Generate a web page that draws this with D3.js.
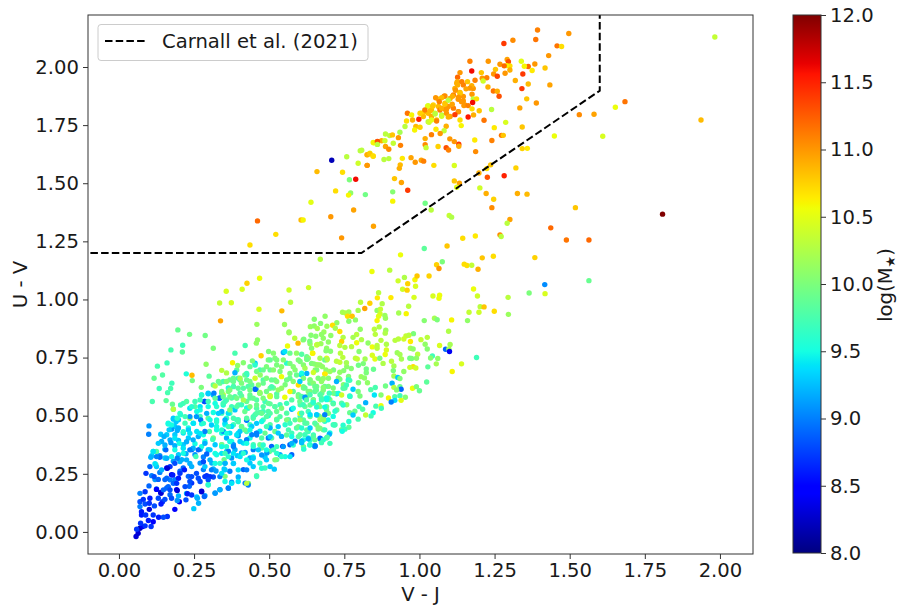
<!DOCTYPE html>
<html>
<head>
<meta charset="utf-8">
<script src="https://cdn.jsdelivr.net/npm/d3@7"></script>
<style>
    html, body { margin: 0; padding: 0; background: #fff; }
    text { font-family: "DejaVu Sans", sans-serif; fill: #1a1a1a; }
</style>
</head>
<body>
<div id="chart"></div>
<script>
// each row: V-J, U-V, log(M*)
const passiveGalaxies = [
[1.393,2.159,11.1],[1.497,2.144,11],[1.983,2.129,10.35],[1.281,2.101,11.4],[1.311,2.115,11.05],[1.387,2.118,11.15],[1.458,2.091,11.15],[1.473,2.088,10.7],
[1.43,2.049,11],[1.168,2.025,11.1],[1.229,2.025,11],[1.292,2.032,10.95],[1.296,2.023,11.3],[1.339,2.025,10.5],[1.268,2.012,11],[1.384,2.013,11],
[1.362,2.002,11.2],[1.349,2.003,10.6],[1.418,1.996,10.8],[1.174,1.983,11.6],[1.301,2.005,10.7],[1.29,2.006,10.6],[1.282,2.005,11.2],[1.253,1.99,10.8],
[1.206,1.976,10.8],[1.135,1.976,11],[1.375,1.985,10.65],[1.247,1.97,11],[1.285,1.973,11],[1.301,1.987,10.9],[1.344,1.97,11.4],[1.259,1.96,11.35],
[1.127,1.956,11.2],[1.209,1.952,11],[1.224,1.954,11.1],[1.185,1.943,11.1],[1.126,1.937,10.9],[1.212,1.94,10.4],[1.16,1.937,10.8],[1.141,1.937,11.1],
[1.319,1.942,10.9],[1.434,1.923,10.95],[1.362,1.927,10.85],[1.146,1.923,11.1],[1.174,1.92,10.9],[1.127,1.923,10.9],[1.228,1.914,10.9],[1.341,1.907,11.4],
[1.168,1.909,11],[1.155,1.906,10.95],[1.12,1.9,11],[1.246,1.897,11.15],[1.259,1.896,10.9],[1.135,1.887,10.8],[1.175,1.883,11],[1.265,1.874,11.3],
[1.11,1.874,10.9],[1.082,1.874,11.05],[1.074,1.868,10.85],[1.054,1.868,11],[1.13,1.87,11],[1.179,1.863,10.3],[1.19,1.863,10.7],[1.357,1.863,10.8],
[1.096,1.857,10.3],[1.146,1.854,11],[1.066,1.851,11.1],[1.177,1.847,11.6],[1.389,1.845,11],[1.085,1.84,10.8],[1.109,1.84,10.95],[1.027,1.831,10.5],
[1.044,1.831,10.8],[1.148,1.834,11],[1.162,1.834,11.1],[1.074,1.823,10.9],[1.334,1.824,10.95],[1.24,1.817,10.3],[1.199,1.812,10.8],[1.175,1.82,10.7],
[1.09,1.818,11],[1.018,1.815,11.1],[1.035,1.811,10.85],[1.13,1.808,11],[1.002,1.801,10.75],[0.96,1.801,11.15],[0.974,1.794,10.6],[1.052,1.798,10.3],
[1.118,1.795,11.4],[1.18,1.794,10.9],[1.532,1.795,11.05],[1.581,1.797,10.95],[1.652,1.827,10.55],[1.684,1.851,11.15],[1.937,1.772,10.85],[1.162,1.785,11.55],
[1.074,1.788,10.4],[1.096,1.785,10.9],[0.998,1.775,11.5],[0.957,1.768,10.7],[0.977,1.772,10.9],[1.057,1.768,11.1],[1.032,1.762,10.4],[1.04,1.772,10.5],
[1.135,1.772,10.7],[1.215,1.771,11.15],[1.287,1.762,10.45],[0.952,1.744,10.3],[1.139,1.748,10.6],[1.089,1.745,10.9],[0.988,1.744,10.85],[1.002,1.741,10.75],
[1.342,1.742,10.8],[1.249,1.739,10.65],[0.935,1.719,10.2],[0.984,1.729,10.6],[1.055,1.732,10.65],[1.082,1.726,10.35],[1.069,1.714,11],[1.04,1.709,11.1],
[1.273,1.706,11.15],[1.279,1.706,10.8],[1.449,1.703,10.55],[1.61,1.702,10.45],[0.887,1.712,10.3],[0.901,1.705,10.3],[0.91,1.708,10.8],[0.93,1.696,11],
[1.019,1.692,10.9],[1.101,1.691,11],[1.184,1.686,10.65],[1.116,1.679,11],[1.241,1.684,11.1],[0.874,1.683,10.9],[0.885,1.683,10.4],[0.846,1.675,10.5],
[0.86,1.679,11.2],[0.913,1.672,10.35],[0.86,1.668,10.3],[0.937,1.663,11.1],[1.019,1.666,11.05],[1.131,1.668,11.4],[1.131,1.659,10.9],[1.062,1.658,10.75],
[1.022,1.653,10.35],[1.089,1.653,11.3],[1.097,1.643,11.1],[0.887,1.658,10.95],[0.898,1.646,11.05],[1.187,1.636,11.05],[1.342,1.649,10.75],[1.359,1.65,10.65],
[0.808,1.642,10.3],[0.835,1.629,10.5],[0.826,1.622,10.85],[0.846,1.616,10.7],[0.972,1.61,10.95],[0.943,1.607,10.65],[0.898,1.606,10.3],[0.882,1.602,10.3],
[1.006,1.599,10.95],[1.014,1.595,11.1],[0.986,1.59,11],[0.936,1.579,10.85],[1.048,1.577,10.7],[1.116,1.576,10.45],[1.237,1.579,10.8],[0.826,1.577,11],
[0.933,1.564,10.9],[1.224,1.563,10.7],[1.321,1.566,10.75],[1.198,1.544,10.9],[1.226,1.526,11.3],[1.282,1.532,11.5],[0.917,1.52,10.8],[0.94,1.503,10.95],
[1.116,1.51,10.8],[1.133,1.5,10.95],[1.124,1.483,10.5],[0.961,1.47,11.4],[1.201,1.48,10.4],[0.911,1.463,10.05],[0.82,1.451,9.95],[1.222,1.456,10.9],
[1.326,1.456,10.9],[1.358,1.453,10.85],[1.247,1.431,10.75],[0.911,1.423,10.6],[1.019,1.414,9.95],[1.519,1.395,10.8],[1.241,1.395,11.05],[1.039,1.385,10.3],
[1.099,1.361,10.35],[1.107,1.354,10.25],[1.809,1.367,12],[1.301,1.344,10.95],[1.292,1.328,10.3],[0.847,1.315,10.95],[1.437,1.308,11.2],[1.489,1.256,11.15],
[1.564,1.256,11.2],[1.268,1.278,11.05],[1.272,1.271,10.3],[1.186,1.273,10.65],[1.144,1.263,10.7],[1.092,1.23,10.8],[1.016,1.219,9.85],
[0.708,1.599,8.2],[0.758,1.614,10.3],[0.803,1.64,10.3],[0.826,1.623,10.9],[0.835,1.627,10.8],[0.846,1.617,10.7],[0.848,1.674,10.6],[0.86,1.68,11.3],
[0.86,1.667,10.3],[0.796,1.586,10.4],[0.826,1.577,11],[0.659,1.55,10.85],[0.744,1.547,10.7],[0.767,1.515,10],[0.788,1.517,11.6],[0.721,1.467,10.7],
[0.771,1.458,10.1],[0.764,1.449,10.6],[0.639,1.418,10.5],[0.781,1.385,10.95],[0.461,1.338,11.2],[0.606,1.342,10.85],[0.613,1.342,10.6],[0.705,1.356,11],
[0.522,1.28,10.7],[0.741,1.265,11],[0.436,1.234,10.7]
];

const passiveCore = [
[1.124,1.93,10.9],[1.118,1.908,10.9],[1.179,1.908,11],[1.135,1.89,10.85],[1.113,1.88,11.1],[1.146,1.873,11],[1.102,1.865,10.9],[1.129,1.861,11],
[1.085,1.875,11],[1.063,1.861,10.8],[1.085,1.844,10.8],[1.14,1.851,11],[1.151,1.837,11],[1.046,1.837,10.75],[1.029,1.833,10.4],[1.063,1.83,10.85],
[1.096,1.83,11],[1.113,1.823,11.1],[1.129,1.808,11.1],[1.04,1.815,10.85],[1.018,1.808,10.85],[1.052,1.801,10.4],[1.074,1.794,10.3],[1.09,1.801,11],
[1.102,1.787,10.95],[1.029,1.801,10.85],[1.007,1.801,10.7],[1.013,1.787,10.85],[1.04,1.787,10.9],[1.057,1.772,10.8],[1.029,1.765,10.3],[1.085,1.818,11],
[1.068,1.815,11.1]
];

const greenValley = [
[0.937,1.192,10.55],[1.209,1.179,10.8],[1.246,1.186,10.7],[1.384,1.18,10.75],[1.057,1.149,10.75],[1.065,1.133,11],[1.076,1.162,10],[1.149,1.152,10.7],
[1.158,1.146,10.7],[1.174,1.147,10.35],[1.195,1.13,10.9],[0.842,1.12,10.55],[0.901,1.126,10.3],[0.67,1.173,10.3],[0.95,1.095,10.25],[0.929,1.08,10.4],
[0.985,1.085,10.6],[0.992,1.101,10.8],[1.032,1.101,10.75],[0.961,1.068,10.75],[0.987,1.057,10.45],[0.944,1.044,10.4],[0.959,1.04,10.75],[1.417,1.064,9.05],
[1.564,1.081,9.9],[1.365,1.028,10],[1.418,1.025,10.45],[1.295,1.009,10.3],[1.18,1.045,10.55],[1.193,1.015,10.4],[1.045,1.015,10.45],[1.067,1.018,10.55],
[1.065,1.005,10.55],[0.982,1.009,10.45],[0.905,1.008,10.65],[0.86,1.007,10.65],[0.864,1.029,10.3],[0.631,1.051,10.4],[0.804,0.988,10.3],[0.835,0.984,10.75],
[0.876,0.982,10.25],[0.818,0.961,10.95],[0.796,0.953,10.2],[0.859,0.953,10.1],[0.87,0.958,10.35],[0.964,0.971,10.3],[0.931,0.942,10.2],[0.956,0.939,10.6],
[0.869,0.938,10.4],[0.864,0.928,10.5],[0.859,0.909,10.6],[0.885,0.931,10.15],[0.887,0.919,10.15],[1.202,0.969,10.3],[1.215,0.968,10.8],[1.249,0.949,10.7],
[1.198,0.945,10.4],[1.165,0.945,10.35],[1.296,0.936,10.15],[1.16,0.909,10.1],[1.107,0.912,10.6],[1.05,0.919,10.2],[1.059,0.913,10],[1.016,0.909,10.05],
[0.744,0.945,10.2],[0.754,0.942,10.25],[0.765,0.946,10.2],[0.761,0.928,10.7],[0.776,0.928,10.8],[0.765,0.906,10.05],[0.787,0.912,10.1],[0.686,0.928,10.1],
[0.65,0.915,10.05],[0.725,0.9,10.1],[0.671,0.897,10.05],[0.711,0.889,10.7],[0.637,0.883,10.15],[0.65,0.886,10.1],[0.66,0.875,10.2],[0.692,0.885,10.15],
[0.72,0.876,10.2],[0.735,0.862,10.7],[0.803,0.872,10.1],[0.85,0.872,10.3],[0.866,0.882,10.25],[0.853,0.85,10.3],[0.888,0.868,10.15],[0.886,0.855,10.25],
[1.097,0.863,10.25],[0.98,0.853,10],[0.682,0.86,10.15],[0.639,0.846,10.05],[0.655,0.842,10.05],[0.674,0.849,10.1],[0.705,0.845,10.1],[0.746,0.837,10.25],
[0.791,0.849,10.3],[0.779,0.837,10.2],[0.807,0.827,10.25],[0.872,0.824,10.3],[0.955,0.843,10.35],[0.965,0.846,10.3],[0.948,0.83,10.4],[0.93,0.83,10.3],
[0.919,0.824,10.3],[1.005,0.827,10.35],[1.026,0.837,10.3],[0.97,0.819,10.65],[0.615,0.829,10],[0.635,0.82,10],[0.672,0.81,10.15],[0.697,0.817,10.1],
[0.741,0.819,10.75],[0.791,0.814,10.55],[0.829,0.813,10.1],[0.89,0.807,10.25],[1.019,0.807,10.1],[0.66,0.806,10.3],[0.735,0.802,10.3],[0.752,0.794,10.25],
[0.774,0.797,10.3],[0.843,0.796,10.55],[0.859,0.802,10.3],[0.859,0.79,10.3],[1.067,0.802,10.45],[1.026,0.787,10.05],[0.641,0.79,10.05],[1.102,0.806,10.2],
[1.087,0.786,8.9],[1.098,0.787,10.2],[1.1,0.776,8.4],[0.689,0.779,10.05],[0.704,0.777,10.05],[0.799,0.776,10.05],[0.89,0.783,10.45],[0.886,0.763,10.55],
[0.926,0.771,10.15],[0.97,0.79,10.2],[0.979,0.787,10.1],[0.994,0.764,10.3],[0.644,0.769,10.6],[0.737,0.769,10.3],[0.745,0.751,10.3],[0.843,0.76,10.45],
[0.852,0.744,10.5],[0.935,0.763,10.2],[0.94,0.744,10.2],[1.043,0.757,9.7],[1.037,0.748,10.05],[1.061,0.746,10.1],[1.19,0.75,9.7],[0.99,0.747,10.1],
[0.968,0.747,9.95],[0.974,0.746,10],[0.608,0.764,9.8],[0.626,0.743,9.95],[0.685,0.74,9.9],[0.693,0.743,10.25],[0.724,0.734,10.3],[0.735,0.73,10.35],
[0.757,0.728,10.2],[0.787,0.747,10.3],[0.819,0.744,10.2],[0.793,0.744,10.35],[0.868,0.747,10],[0.879,0.725,10.25],[0.907,0.734,10.3],[0.813,0.724,10],
[0.797,0.717,9.95],[0.979,0.711,10.7],[0.968,0.708,10.4],[0.988,0.705,10.4],[1.028,0.71,9.85],[1.056,0.723,10.2],[1.14,0.723,10.45],[1.109,0.69,10.6],
[0.915,0.714,10.2],[0.649,0.723,10.05],[0.663,0.718,10.1],[0.677,0.711,10.1],[0.689,0.697,10.1],[0.773,0.703,10.05],[0.823,0.701,9.95],[0.847,0.7,9.9],
[0.748,0.694,10.05],[0.735,0.687,10.1],[0.702,0.69,10.15],[0.685,0.68,10.65],[0.913,0.694,10],[0.948,0.69,10.1],[0.915,0.671,10.2],[0.806,0.668,10.15],
[0.68,0.66,10.1],[0.768,0.652,9.7],[0.735,0.657,10],[0.823,0.685,10],[0.928,0.664,9.3],[0.935,0.66,10],[0.817,0.662,10.1],[1.024,0.645,9.85],
[0.909,0.64,9.2],[0.797,0.642,10],[0.827,0.642,10.1],[0.757,0.632,9.7],[0.724,0.647,9.2],[0.887,0.628,9.95],[0.915,0.622,10.3],[0.935,0.625,9.9],
[0.939,0.614,8.9],[0.977,0.618,10.55],[0.99,0.625,10],[1,0.607,9.9],[0.838,0.612,9.8],[0.853,0.621,9.75],[0.779,0.614,9.3],[0.746,0.618,9.8],
[0.68,0.622,10.05],[0.657,0.611,9.9],[0.796,0.604,10],[0.924,0.611,10.05],[0.85,0.589,9.4],[0.872,0.589,10.05],[0.768,0.585,9.6],[0.802,0.585,10],
[0.718,0.596,9.9],[0.73,0.596,9.5],[0.691,0.576,9.5],[0.741,0.589,10.4],[0.918,0.582,9.8],[0.935,0.586,9.7],[0.953,0.579,10.05],[0.897,0.576,10.6],
[0.939,0.566,10.5],[0.918,0.566,9.35],[0.906,0.559,9],[0.821,0.556,9.2],[0.746,0.546,9.6],[0.713,0.551,9.8],[0.646,0.558,9.6],[0.674,0.568,9.7],
[0.624,0.568,9.8],[0.799,0.539,9.75],[0.855,0.541,9.75],[0.872,0.543,10.55],[0.873,0.532,9.7],[0.811,0.528,9.8],[0.846,0.513,9.5],[0.821,0.503,10.35],
[0.839,0.499,9.7],[0.768,0.513,9.9],[0.779,0.503,9.3],[0.796,0.485,9.75],[0.765,0.475,9.6],[0.717,0.46,9.7],[0.696,0.482,9.5],[0.681,0.482,10.1],
[0.746,0.459,9.6],[0.765,0.45,9.85],[0.752,0.442,9.7],[0.743,0.433,9.5],[0.685,0.439,9.7],[0.7,0.42,9.2],[0.671,0.401,8.9],[0.68,0.396,9.6],
[0.693,0.407,9.8],[0.63,0.401,9.2],[0.608,0.384,9.25],[0.652,0.396,9.9],[0.653,0.37,9],[0.635,0.374,9.6],[0.615,0.356,9.6],[0.674,0.384,9.7]
];

const starFormingUpper = [
[0.468,1.091,10.55],[0.426,1.07,10.75],[0.41,1.044,10.45],[0.357,1.035,10.45],[0.566,1.041,10.4],[0.335,0.985,10.35],[0.374,0.986,10.45],[0.571,0.988,10.3],
[0.466,0.958,10.45],[0.542,0.951,10.85],[0.338,0.908,10.95],[0.459,0.893,10.15],[0.551,0.892,10.15],[0.196,0.869,9.9],[0.235,0.85,9.95],[0.287,0.845,9.95],
[0.566,0.86,10.15],[0.173,0.783,9.75],[0.212,0.803,9.7],[0.211,0.774,9.85],[0.314,0.79,10],[0.42,0.802,9.75],[0.461,0.826,10.1],[0.457,0.812,10.1],
[0.386,0.769,9.75],[0.585,0.833,10.3],[0.596,0.812,10.85],[0.561,0.8,10.55],[0.473,0.758,10.75],[0.498,0.776,10],[0.378,0.728,10.6],[0.16,0.727,9.7],
[0.128,0.713,9.75],[0.29,0.721,10.1],[0.395,0.716,10.1],[0.414,0.728,10.05],[0.444,0.736,10],[0.117,0.661,9.9],[0.145,0.675,9.8],[0.224,0.68,9.55],
[0.243,0.674,10.85],[0.244,0.651,9.95],[0.3,0.67,9.85],[0.342,0.695,10.3],[0.358,0.684,10.25],[0.134,0.617,9.7],[0.176,0.64,9.7],[0.172,0.617,9.75],
[0.162,0.599,9.75],[0.274,0.622,10],[0.111,0.561,9.75],[0.157,0.565,9.85],[0.178,0.549,9.9],[0.181,0.528,10.3],[0.1,0.456,9.1],[0.099,0.42,9]
];

const starFormingMain = [
[0.203,0.51,9.6],[0.22,0.496,9.7],[0.175,0.46,9.5],[0.247,0.467,9.4],[0.281,0.467,9.6],[0.214,0.431,9.6],[0.236,0.424,9.4],[0.194,0.489,9.6],
[0.253,0.539,9.8],[0.27,0.525,9.5],[0.303,0.482,9.5],[0.325,0.474,9.6],[0.342,0.439,9.6],[0.364,0.453,9.7],[0.397,0.474,9.75],[0.408,0.453,9.9],
[0.447,0.496,9.75],[0.475,0.51,9.9],[0.519,0.539,9.8],[0.541,0.532,10],[0.575,0.568,9.8],[0.602,0.561,9.9],[0.619,0.539,9.9],[0.647,0.568,10],
[0.674,0.575,9.8],[0.658,0.503,9.9],[0.68,0.496,10.1],[0.586,0.482,9.8],[0.558,0.482,10],[0.525,0.482,9.8],[0.491,0.496,9.8],[0.458,0.546,9.9],
[0.436,0.539,10],[0.419,0.518,9.9],[0.392,0.575,9.95],[0.369,0.611,10],[0.347,0.582,9.9],[0.32,0.575,9.85],[0.297,0.561,9.7],[0.27,0.568,9.7],
[0.242,0.539,9.6],[0.381,0.647,9.9],[0.408,0.64,10],[0.436,0.647,9.95],[0.464,0.632,10.05],[0.491,0.661,10],[0.525,0.647,10],[0.558,0.654,9.95],
[0.58,0.647,10.05],[0.614,0.661,10],[0.647,0.64,10.05],[0.674,0.647,10.1],[0.419,0.675,9.9],[0.392,0.697,9.85],[0.458,0.69,9.95],[0.436,0.711,9.9],
[0.491,0.711,10],[0.519,0.747,10],[0.547,0.74,10.05],[0.58,0.711,10.05],[0.614,0.718,10.05],[0.641,0.725,10],[0.669,0.718,10.1],[0.508,0.654,9.9],
[0.53,0.611,10.1],[0.491,0.604,9.95],[0.447,0.575,9.9],[0.48,0.575,10],[0.58,0.604,9.9],[0.636,0.604,10],[0.597,0.582,10],[0.691,0.539,9.9],
[0.658,0.46,10],[0.614,0.482,9.85],[0.558,0.417,9.85],[0.597,0.41,9.8],[0.63,0.432,9.7],[0.68,0.439,9.9],[0.647,0.417,9.7],[0.58,0.374,9.6],
[0.553,0.324,9.5],[0.525,0.338,9.6],[0.491,0.353,9.5],[0.464,0.353,9.3],[0.447,0.367,9.6],[0.403,0.389,9.3],[0.369,0.389,9.5],[0.342,0.338,9.4],
[0.358,0.367,9.6],[0.303,0.353,9.3],[0.275,0.367,9.5],[0.247,0.36,9.2],[0.214,0.36,9.4],[0.186,0.353,9.5],[0.153,0.374,9.2],[0.214,0.338,9.5],
[0.175,0.324,9.5],[0.159,0.317,9.2],[0.203,0.303,9.2],[0.286,0.281,9.3],[0.32,0.295,9.5],[0.303,0.31,9.2],[0.336,0.295,9.6],[0.353,0.338,9.7],
[0.32,0.553,9.5],[0.342,0.604,10],[0.32,0.628,10.3],[0.331,0.647,9.9],[0.358,0.647,10],[0.386,0.685,9.2],[0.403,0.661,10.2],[0.425,0.682,9.7],
[0.453,0.718,9.6],[0.47,0.675,10.1],[0.453,0.661,10.4],[0.503,0.74,9.9],[0.525,0.718,10],[0.552,0.776,9.4],[0.569,0.769,9.9],[0.591,0.769,10.1],
[0.613,0.826,10.1],[0.636,0.809,10.1],[0.658,0.804,10.4],[0.68,0.833,10.1],[0.691,0.79,10.1],[0.645,0.769,10.65],[0.691,0.747,10.5],[0.625,0.754,9.9],
[0.597,0.74,10],[0.569,0.725,10],[0.541,0.711,10.05],[0.514,0.697,10.05],[0.48,0.697,9.9],[0.541,0.668,10.55],[0.625,0.682,9.2],[0.591,0.675,9.9],
[0.569,0.682,10],[0.686,0.68,10.7],[0.658,0.697,10],[0.636,0.654,10.1],[0.597,0.632,10.7],[0.569,0.604,10.6],[0.552,0.579,10.55],[0.614,0.625,10],
[0.68,0.611,10],[0.652,0.604,9.85],[0.625,0.582,10],[0.697,0.575,9.7],[0.669,0.539,10],[0.636,0.546,9.9],[0.602,0.51,10.55],[0.58,0.532,9.5],
[0.558,0.553,9.7],[0.525,0.582,9.85],[0.503,0.582,10.4],[0.48,0.539,9.8],[0.508,0.625,9.75],[0.541,0.618,10.1],[0.469,0.596,10.1],[0.436,0.611,9.95],
[0.397,0.618,9.85],[0.369,0.582,9.9],[0.414,0.568,10.2],[0.392,0.539,9.8],[0.347,0.553,9.7],[0.369,0.525,10],[0.331,0.51,9.3],[0.353,0.482,9.2],
[0.381,0.489,9.75],[0.425,0.489,9.8],[0.458,0.51,9.8],[0.503,0.51,9.8],[0.536,0.496,9.8],[0.569,0.467,9.7],[0.602,0.482,10.1],[0.636,0.496,9.9],
[0.669,0.482,10.2],[0.697,0.51,10],[0.669,0.446,10],[0.625,0.439,9.8],[0.597,0.453,9.9],[0.564,0.439,9.75],[0.53,0.453,9.3],[0.491,0.453,9.7],
[0.458,0.467,9.3],[0.436,0.439,9.5],[0.419,0.439,9.9],[0.392,0.417,9.4],[0.358,0.424,9.5],[0.325,0.439,9.5],[0.308,0.46,9.3],[0.286,0.432,9],
[0.27,0.424,9.4],[0.286,0.381,9.2],[0.312,0.398,9.7],[0.342,0.367,9.5],[0.381,0.367,9],[0.32,0.338,9.5],[0.292,0.335,8.9],[0.264,0.353,8.9],
[0.236,0.353,9],[0.256,0.324,9.7],[0.225,0.31,9.2],[0.194,0.317,9],[0.242,0.281,9.2],[0.281,0.302,8.8],[0.308,0.267,9],[0.323,0.262,9.1],
[0.353,0.295,9.2],[0.364,0.324,9.6],[0.381,0.295,9.3],[0.403,0.324,9.4],[0.425,0.31,9.5],[0.447,0.317,9.3],[0.475,0.331,9.1],[0.491,0.31,9.3],
[0.519,0.31,10],[0.541,0.324,9.6],[0.569,0.324,9.4],[0.575,0.381,9.2],[0.547,0.367,9.1],[0.514,0.353,9.7],[0.48,0.374,9.6],[0.503,0.41,9.3],
[0.458,0.417,9],[0.425,0.381,9.5],[0.397,0.267,9.4],[0.425,0.267,9],[0.447,0.281,9.3],[0.475,0.274,9.6],[0.503,0.281,9.3],[0.517,0.27,9.3],
[0.458,0.238,9.7],[0.43,0.202,9],[0.425,0.209,10.3],[0.397,0.217,9.4],[0.375,0.209,9.4],[0.353,0.217,9.5],[0.336,0.238,9],[0.364,0.188,9],
[0.336,0.181,9.2],[0.32,0.166,9.1],[0.297,0.202,9.6],[0.353,0.267,9.3],[0.614,0.367,9.9],[0.636,0.396,9.6],[0.652,0.367,9.2],[0.669,0.403,9],
[0.614,0.396,9.5],[0.702,0.381,9.7],[0.575,0.41,9.5],[0.525,0.367,9.7],[0.414,0.338,9.6],[0.381,0.338,9.4],[0.342,0.252,9.4]
];

const cloudLeft = [
[0.314,0.632,9.85],[0.336,0.64,9.9],[0.369,0.654,9.9],[0.397,0.661,9.7],[0.425,0.654,9.9],[0.48,0.654,9.8],[0.519,0.654,9.9],[0.381,0.625,9.7],
[0.456,0.614,9.1],[0.414,0.618,9.8],[0.442,0.632,9.85],[0.503,0.618,9.9],[0.275,0.589,9.5],[0.297,0.597,9.3],[0.314,0.589,9.2],[0.342,0.597,9.7],
[0.364,0.604,10],[0.386,0.582,9.8],[0.408,0.585,9.85],[0.436,0.589,9.9],[0.469,0.6,10.3],[0.503,0.585,10.4],[0.525,0.594,9.8],[0.284,0.561,8.9],
[0.253,0.561,9.7],[0.333,0.575,9.1],[0.358,0.568,9.8],[0.425,0.561,9.9],[0.458,0.568,9.8],[0.486,0.561,9.7],[0.214,0.553,9.7],[0.225,0.561,9.8],
[0.205,0.546,9.7],[0.236,0.532,9.4],[0.27,0.539,9.4],[0.297,0.539,9.5],[0.325,0.539,9.6],[0.347,0.546,9.6],[0.375,0.539,9.7],[0.397,0.546,9.8],
[0.43,0.532,9.75],[0.458,0.532,9.8],[0.497,0.553,9.9],[0.519,0.539,9.85],[0.181,0.528,9.85],[0.259,0.518,9.5],[0.314,0.514,9.5],[0.342,0.511,9.7],
[0.369,0.511,9.7],[0.469,0.514,9.8],[0.497,0.518,9.8],[0.205,0.504,9.6],[0.236,0.489,10.1],[0.181,0.485,9.3],[0.198,0.482,9.3],[0.22,0.468,9.7],
[0.27,0.497,9.7],[0.297,0.489,9.8],[0.325,0.482,9.5],[0.358,0.489,9.6],[0.392,0.482,9.6],[0.425,0.482,9.1],[0.447,0.489,9.8],[0.48,0.482,9.7],
[0.525,0.485,10.05],[0.164,0.468,9.5],[0.248,0.468,9.4],[0.275,0.465,9.5],[0.325,0.454,9.5],[0.353,0.461,9.5],[0.408,0.454,9.8],[0.381,0.461,9.7],
[0.436,0.461,9.7],[0.503,0.461,9.8],[0.186,0.454,9.3],[0.198,0.447,9.2],[0.175,0.442,9.1],[0.231,0.447,9.5],[0.259,0.432,9.4],[0.301,0.432,9.8],
[0.342,0.425,9.5],[0.369,0.425,9.4],[0.397,0.425,9.4],[0.458,0.425,9.1],[0.425,0.432,9.7],[0.486,0.425,9.9],[0.519,0.432,9.9],[0.159,0.418,9.3],
[0.186,0.418,9.3],[0.214,0.425,9.4],[0.281,0.418,9.5],[0.314,0.404,10],[0.436,0.404,9.5],[0.475,0.404,9.8],[0.508,0.404,9.8],[0.142,0.389,9.2],
[0.17,0.396,9.2],[0.198,0.394,9.3],[0.231,0.404,9.3],[0.253,0.379,9.5],[0.286,0.389,9.5],[0.342,0.375,9.8],[0.375,0.389,9.5],[0.414,0.382,9.4],
[0.447,0.375,9.7],[0.214,0.375,9.3],[0.186,0.371,9.2],[0.32,0.375,9.3],[0.242,0.354,8.9],[0.27,0.356,9.1],[0.297,0.354,9.3],[0.153,0.356,9.3],
[0.386,0.354,9.2],[0.358,0.346,9.3],[0.42,0.342,9.2],[0.475,0.361,9.8],[0.501,0.346,9.85],[0.125,0.346,9.8],[0.114,0.346,9.6],[0.109,0.328,9.3],
[0.136,0.328,9.1],[0.153,0.318,9.3],[0.198,0.332,9.3],[0.223,0.336,9.2],[0.253,0.332,9.1],[0.281,0.322,9],[0.325,0.332,9.5],[0.394,0.328,9.3],
[0.447,0.322,9.5],[0.486,0.322,9.3],[0.525,0.311,9.9],[0.209,0.311,9.2],[0.181,0.304,9.1],[0.236,0.294,9.2],[0.27,0.296,9.1],[0.309,0.296,9.2],
[0.353,0.296,9.3],[0.381,0.294,9.4],[0.436,0.296,9.3],[0.123,0.289,9.9],[0.35,0.311,9.9],[0.469,0.296,9.6],[0.159,0.275,8.5],[0.214,0.275,8.9],
[0.281,0.268,9],[0.314,0.271,9.2],[0.35,0.271,9.3],[0.369,0.261,9],[0.414,0.268,8.9],[0.486,0.275,9.7],[0.203,0.261,8.9],[0.175,0.246,8.4],
[0.136,0.256,9],[0.109,0.242,9],[0.231,0.239,8.9],[0.292,0.242,8.7],[0.314,0.236,8.8],[0.397,0.236,9.2],[0.458,0.242,9.8],[0.353,0.239,10],
[0.12,0.225,9.1],[0.153,0.225,8.9],[0.186,0.225,9],[0.42,0.21,9],[0.431,0.208,10],[0.242,0.21,8.7],[0.27,0.217,8.8],[0.297,0.204,9.8],
[0.375,0.214,9.1],[0.125,0.185,9],[0.159,0.189,8.9],[0.192,0.182,8.4],[0.234,0.196,8.9],[0.275,0.175,8.3],[0.364,0.189,9.1],[0.336,0.182,9],
[0.32,0.168,9.1],[0.139,0.17,8.3],[0.17,0.16,8.9],[0.225,0.165,9.2],[0.259,0.15,9.3],[0.286,0.156,9.1]
];

const cloudMiddle = [
[0.566,0.857,10.15],[0.547,0.772,9.2],[0.514,0.769,10.05],[0.497,0.74,10],[0.525,0.74,10],[0.453,0.726,9.3],[0.558,0.726,9.6],[0.603,0.733,10],
[0.669,0.747,10.2],[0.625,0.743,10.1],[0.691,0.74,10.3],[0.469,0.697,9.7],[0.503,0.697,9.9],[0.536,0.69,10],[0.586,0.697,10.05],[0.607,0.676,9.3],
[0.653,0.697,10.1],[0.714,0.697,10],[0.758,0.711,10.1],[0.381,0.661,9.9],[0.425,0.676,9.5],[0.403,0.654,9.85],[0.569,0.661,9.9],[0.636,0.64,9.85],
[0.675,0.654,10],[0.73,0.662,10.15],[0.764,0.669,10],[0.347,0.647,9.75],[0.453,0.614,8.9],[0.48,0.64,9.9],[0.43,0.626,9.8],[0.381,0.626,9.75],
[0.364,0.619,9.6],[0.514,0.619,9.9],[0.553,0.633,10],[0.614,0.619,10],[0.658,0.626,9.95],[0.697,0.626,10],[0.747,0.633,10.05],[0.469,0.597,9.85],
[0.403,0.597,9.8],[0.347,0.59,10.3],[0.503,0.586,10.3],[0.597,0.59,9.9],[0.63,0.604,10],[0.675,0.597,9.9],[0.714,0.597,10.25],[0.375,0.576,9.8],
[0.436,0.576,9.85],[0.619,0.576,9.3],[0.647,0.569,9.8],[0.702,0.569,10],[0.758,0.547,10.1],[0.336,0.576,8.9],[0.353,0.561,9.7],[0.408,0.547,9.7],
[0.503,0.551,9.85],[0.536,0.547,9.7],[0.575,0.528,9.2],[0.603,0.547,9.75],[0.664,0.547,9.9],[0.725,0.525,9.85],[0.386,0.525,9.3],[0.425,0.533,9.5],
[0.48,0.518,9.7],[0.525,0.518,9.9],[0.558,0.511,9.8],[0.63,0.518,9.7],[0.691,0.525,9.9],[0.342,0.518,9.2],[0.364,0.511,9.4],[0.453,0.504,9.7],
[0.497,0.5,9.5],[0.603,0.497,9.7],[0.664,0.5,9.9],[0.397,0.483,9.7],[0.425,0.48,9],[0.475,0.475,9.5],[0.525,0.483,10.2],[0.564,0.483,9.8],
[0.625,0.468,9.85],[0.719,0.461,9.8],[0.353,0.468,9.4],[0.375,0.454,9.4],[0.442,0.454,9.3],[0.503,0.447,9.2],[0.553,0.461,9.6],[0.591,0.447,9.8],
[0.664,0.447,9.7],[0.741,0.44,9.9],[0.347,0.433,9],[0.403,0.433,9.3],[0.469,0.433,9.4],[0.53,0.425,9.3],[0.575,0.425,9.7],[0.63,0.404,9.5],
[0.691,0.404,9.8],[0.397,0.414,9.1],[0.442,0.418,9],[0.458,0.425,9],[0.669,0.4,9.9],[0.358,0.404,9.2],[0.425,0.397,9],[0.497,0.404,9],
[0.541,0.411,9.2],[0.603,0.418,9.8],[0.342,0.375,9.95],[0.381,0.375,9.1],[0.469,0.375,9.9],[0.508,0.368,8.9],[0.545,0.368,8.7],[0.569,0.375,8.9],
[0.586,0.39,9],[0.636,0.375,9.7],[0.652,0.371,9.1],[0.364,0.347,9],[0.408,0.34,9.2],[0.447,0.354,9],[0.492,0.34,9.1],[0.536,0.332,9.2],
[0.575,0.332,8.9],[0.375,0.318,9.1],[0.436,0.318,9.2]
];

const cloudRight = [
[0.63,0.747,10.1],[0.658,0.719,10.2],[0.619,0.704,10.2],[0.647,0.686,10.4],[0.608,0.683,9.5],[0.602,0.647,9.3],[0.636,0.654,10],[0.663,0.661,10],
[0.697,0.661,10.05],[0.619,0.619,9.9],[0.652,0.626,9.9],[0.685,0.626,9.9],[0.713,0.619,10],[0.763,0.654,9.6],[0.752,0.619,9.8],[0.608,0.583,9.8],
[0.636,0.59,9.75],[0.669,0.59,9.8],[0.7,0.597,9.7],[0.724,0.594,9.2],[0.619,0.58,9.1],[0.769,0.583,9.7],[0.647,0.554,9.8],[0.691,0.569,9.5],
[0.713,0.554,9.5],[0.741,0.554,9.8],[0.613,0.547,9.7],[0.785,0.519,9.9],[0.658,0.537,9.6],[0.685,0.537,9.5],[0.719,0.519,9.6],[0.608,0.511,9.7],
[0.636,0.504,9.4],[0.658,0.504,9.3],[0.685,0.504,9],[0.713,0.497,9.5],[0.619,0.468,9.8],[0.652,0.468,9.8],[0.685,0.476,9.6],[0.713,0.461,9.7],
[0.608,0.447,9.6],[0.636,0.447,9.3],[0.663,0.443,10],[0.702,0.426,9.5],[0.619,0.418,9.7],[0.647,0.411,9.8],[0.608,0.39,9.2]
];

const lowMassTail = [
[0.057,-0.02,8.3],[0.064,-0.006,8.3],[0.07,0.016,8.2],[0.079,0.023,8.4],[0.059,0.012,8.7],[0.072,0.037,8.7],[0.087,0.026,8.7],[0.107,0.023,8.7],
[0.114,0.044,8.5],[0.098,0.049,8.6],[0.075,0.073,8.6],[0.075,0.087,8.6],[0.089,0.073,8.7],[0.114,0.073,8.7],[0.132,0.063,8.6],[0.161,0.066,8.7],
[0.148,0.063,8.8],[0.101,0.097,8.3],[0.07,0.109,9],[0.087,0.12,8.8],[0.101,0.123,8.7],[0.118,0.112,8.8],[0.07,0.13,8.8],[0.081,0.14,8.7],
[0.103,0.145,8.6],[0.125,0.183,8.5],[0.14,0.166,8.3],[0.131,0.145,8.8],[0.145,0.13,8.7],[0.14,0.12,8.6],[0.153,0.14,8.8],[0.175,0.145,8.8],
[0.194,0.178,8.3],[0.201,0.13,8.5],[0.186,0.097,8.5],[0.194,0.135,9.1],[0.198,0.155,9.2],[0.223,0.138,8.8],[0.228,0.164,8.6],[0.242,0.159,8.7],
[0.261,0.145,9.2],[0.275,0.173,8.3],[0.284,0.152,8.9],[0.265,0.123,9.2],[0.249,0.1,9.3],[0.07,0.166,9],[0.087,0.173,8.7],[0.1,0.198,8.9],
[0.17,0.224,9],[0.117,0.238,8.8],[0.09,0.252,8.7],[0.103,0.281,8.9],[0.131,0.226,8.9],[0.159,0.231,8.9],[0.179,0.245,8.6],[0.203,0.252,8.7],
[0.198,0.231,8.6],[0.218,0.267,8.6],[0.17,0.281,8.7],[0.161,0.274,8.3],[0.186,0.295,8.8],[0.142,0.267,9.2],[0.125,0.281,9.3],[0.12,0.293,9.4],
[0.136,0.321,8.9],[0.114,0.346,9.4],[0.125,0.324,9],[0.106,0.321,9.2],[0.156,0.353,8.9],[0.131,0.381,9.3],[0.139,0.42,9.3],[0.15,0.41,9.2],
[0.164,0.464,9.5],[0.167,0.439,9.3],[0.181,0.489,9.3],[0.19,0.474,9.3],[0.194,0.436,9.2],[0.173,0.384,9.1],[0.186,0.403,9.4],[0.201,0.381,9.5],
[0.225,0.388,9.2],[0.247,0.396,9.2],[0.264,0.41,9.2],[0.231,0.439,9.3],[0.236,0.496,9.1],[0.258,0.496,9.1],[0.272,0.482,9],[0.286,0.561,8.8],
[0.292,0.51,9.2],[0.297,0.594,9.3],[0.316,0.597,9],[0.275,0.589,9.6],[0.258,0.252,8.8],[0.286,0.238,8.7],[0.303,0.238,8.7],[0.236,0.217,8.8],
[0.22,0.195,8.8],[0.181,0.209,8.9],[0.164,0.195,8.9],[0.148,0.181,8.9],[0.242,0.238,8.8],[0.192,0.209,8.7],[0.17,0.181,8.8],[0.297,0.224,8.8],
[0.264,0.231,8.8]
];

const xTicks = [0, 0.25, 0.5, 0.75, 1, 1.25, 1.5, 1.75, 2];
const yTicks = [0, 0.25, 0.5, 0.75, 1, 1.25, 1.5, 1.75, 2];
const massTicks = [8, 8.5, 9, 9.5, 10, 10.5, 11, 11.5, 12];

// Carnall et al. (2021) selection box
const boxVJ = [-0.095, 0.807, 1.6, 1.6];
const boxUV = [1.2, 1.2, 1.898, 2.23];

// jet colormap breakpoints
const jetR = d3.scaleLinear().domain([0, 0.35, 0.66, 0.89, 1]).range([0, 0, 1, 1, 0.5]);
const jetG = d3.scaleLinear().domain([0, 0.125, 0.375, 0.64, 0.91, 1]).range([0, 0, 1, 1, 0, 0]);
const jetB = d3.scaleLinear().domain([0, 0.11, 0.34, 0.65, 1]).range([0.5, 1, 1, 0, 0]);
const jet = t => `rgb(${jetR(t) * 255},${jetG(t) * 255},${jetB(t) * 255})`;

const massNorm = d3.scaleLinear().domain([8, 12]).range([0, 1]);

const width = 898, height = 608;
const margin = {top: 15, right: 145, bottom: 54, left: 88};
const fontSize = "19.6px";

const svg = d3.select("#chart").append("svg")
    .attr("width", width)
    .attr("height", height)
    .style("display", "block");

const x = d3.scaleLinear().domain([-0.103, 2.11]).range([margin.left, width - margin.right]);
const y = d3.scaleLinear().domain([-0.095, 2.2237]).range([height - margin.bottom, margin.top]);

svg.append("clipPath").attr("id", "plotClip").append("rect")
    .attr("x", margin.left)
    .attr("y", margin.top)
    .attr("width", width - margin.left - margin.right)
    .attr("height", height - margin.top - margin.bottom);

// draw points
const allPoints = [...cloudLeft, ...lowMassTail, ...cloudMiddle, ...starFormingMain, ...cloudRight, ...starFormingUpper, ...greenValley, ...passiveCore, ...passiveGalaxies];

svg.append("g").attr("clip-path", "url(#plotClip)")
    .selectAll("circle")
    .data(allPoints)
    .enter().append("circle")
    .attr("cx", d => x(d[0]))
    .attr("cy", d => y(d[1]))
    .attr("r", 2.7)
    .attr("fill", d => jet(massNorm(d[2])));

// selection line
const boxLine = d3.line().x(d => x(d[0])).y(d => y(d[1]));

svg.append("path")
    .attr("clip-path", "url(#plotClip)")
    .attr("d", boxLine(boxVJ.map((v, i) => [v, boxUV[i]])))
    .attr("fill", "none")
    .attr("stroke", "#000")
    .attr("stroke-width", 2)
    .attr("stroke-dasharray", "7.5,3.2");

// frame
svg.append("rect")
    .attr("x", margin.left)
    .attr("y", margin.top)
    .attr("width", width - margin.left - margin.right)
    .attr("height", height - margin.top - margin.bottom)
    .attr("fill", "none")
    .attr("stroke", "#333")
    .attr("stroke-width", 1);

// axes
const xAxis = d3.axisBottom(x).tickValues(xTicks).tickFormat(d3.format(".2f")).tickSize(5).tickPadding(4);
const yAxis = d3.axisLeft(y).tickValues(yTicks).tickFormat(d3.format(".2f")).tickSize(5).tickPadding(4);

const gx = svg.append("g").attr("transform", `translate(0,${height - margin.bottom})`).call(xAxis);
const gy = svg.append("g").attr("transform", `translate(${margin.left},0)`).call(yAxis);

[gx, gy].forEach(g => {
    g.select(".domain").remove();
    g.selectAll("line").attr("stroke", "#333");
    g.selectAll("text").style("font-size", fontSize).style("font-family", "DejaVu Sans");
});

svg.append("text")
    .attr("x", (margin.left + width - margin.right) / 2)
    .attr("y", 601)
    .attr("text-anchor", "middle")
    .style("font-size", fontSize)
    .text("V - J");

svg.append("text")
    .attr("transform", `translate(27,${(margin.top + height - margin.bottom) / 2}) rotate(-90)`)
    .attr("text-anchor", "middle")
    .style("font-size", fontSize)
    .text("U - V");

// legend
svg.append("rect")
    .attr("x", 98)
    .attr("y", 24.5)
    .attr("width", 270)
    .attr("height", 36)
    .attr("rx", 3)
    .attr("fill", "#fff")
    .attr("fill-opacity", 0.8)
    .attr("stroke", "#ccc");

svg.append("line")
    .attr("x1", 105)
    .attr("x2", 146)
    .attr("y1", 41)
    .attr("y2", 41)
    .attr("stroke", "#000")
    .attr("stroke-width", 2)
    .attr("stroke-dasharray", "7.5,3.2");

svg.append("text")
    .attr("x", 162)
    .attr("y", 48)
    .style("font-size", fontSize)
    .text("Carnall et al. (2021)");

// colorbar
const cbar = {left: 793, right: 821, top: 15, bottom: 553};
const massScale = d3.scaleLinear().domain([8, 12]).range([cbar.bottom, cbar.top]);

const grad = svg.append("defs").append("linearGradient")
    .attr("id", "jetGrad")
    .attr("x1", 0).attr("x2", 0).attr("y1", 1).attr("y2", 0);

grad.selectAll("stop")
    .data([0, 0.11, 0.125, 0.34, 0.35, 0.375, 0.64, 0.65, 0.66, 0.89, 0.91, 1])
    .enter().append("stop")
    .attr("offset", d => d)
    .attr("stop-color", d => jet(d));

svg.append("rect")
    .attr("x", cbar.left)
    .attr("y", cbar.top)
    .attr("width", cbar.right - cbar.left)
    .attr("height", cbar.bottom - cbar.top)
    .attr("fill", "url(#jetGrad)")
    .attr("stroke", "#333")
    .attr("stroke-width", 1);

const cAxis = d3.axisRight(massScale).tickValues(massTicks).tickFormat(d3.format(".1f")).tickSize(5).tickPadding(4);
const gc = svg.append("g").attr("transform", `translate(${cbar.right},0)`).call(cAxis);
gc.select(".domain").remove();
gc.selectAll("line").attr("stroke", "#333");
gc.selectAll("text").style("font-size", fontSize).style("font-family", "DejaVu Sans");

const cLabel = svg.append("text")
    .attr("transform", "translate(892,285) rotate(-90)")
    .attr("text-anchor", "middle")
    .style("font-size", fontSize);
cLabel.append("tspan").text("log(M");
cLabel.append("tspan").attr("dy", 3).style("font-size", "13px").text("★");
cLabel.append("tspan").attr("dy", -3).text(")");
</script>
</body>
</html>
